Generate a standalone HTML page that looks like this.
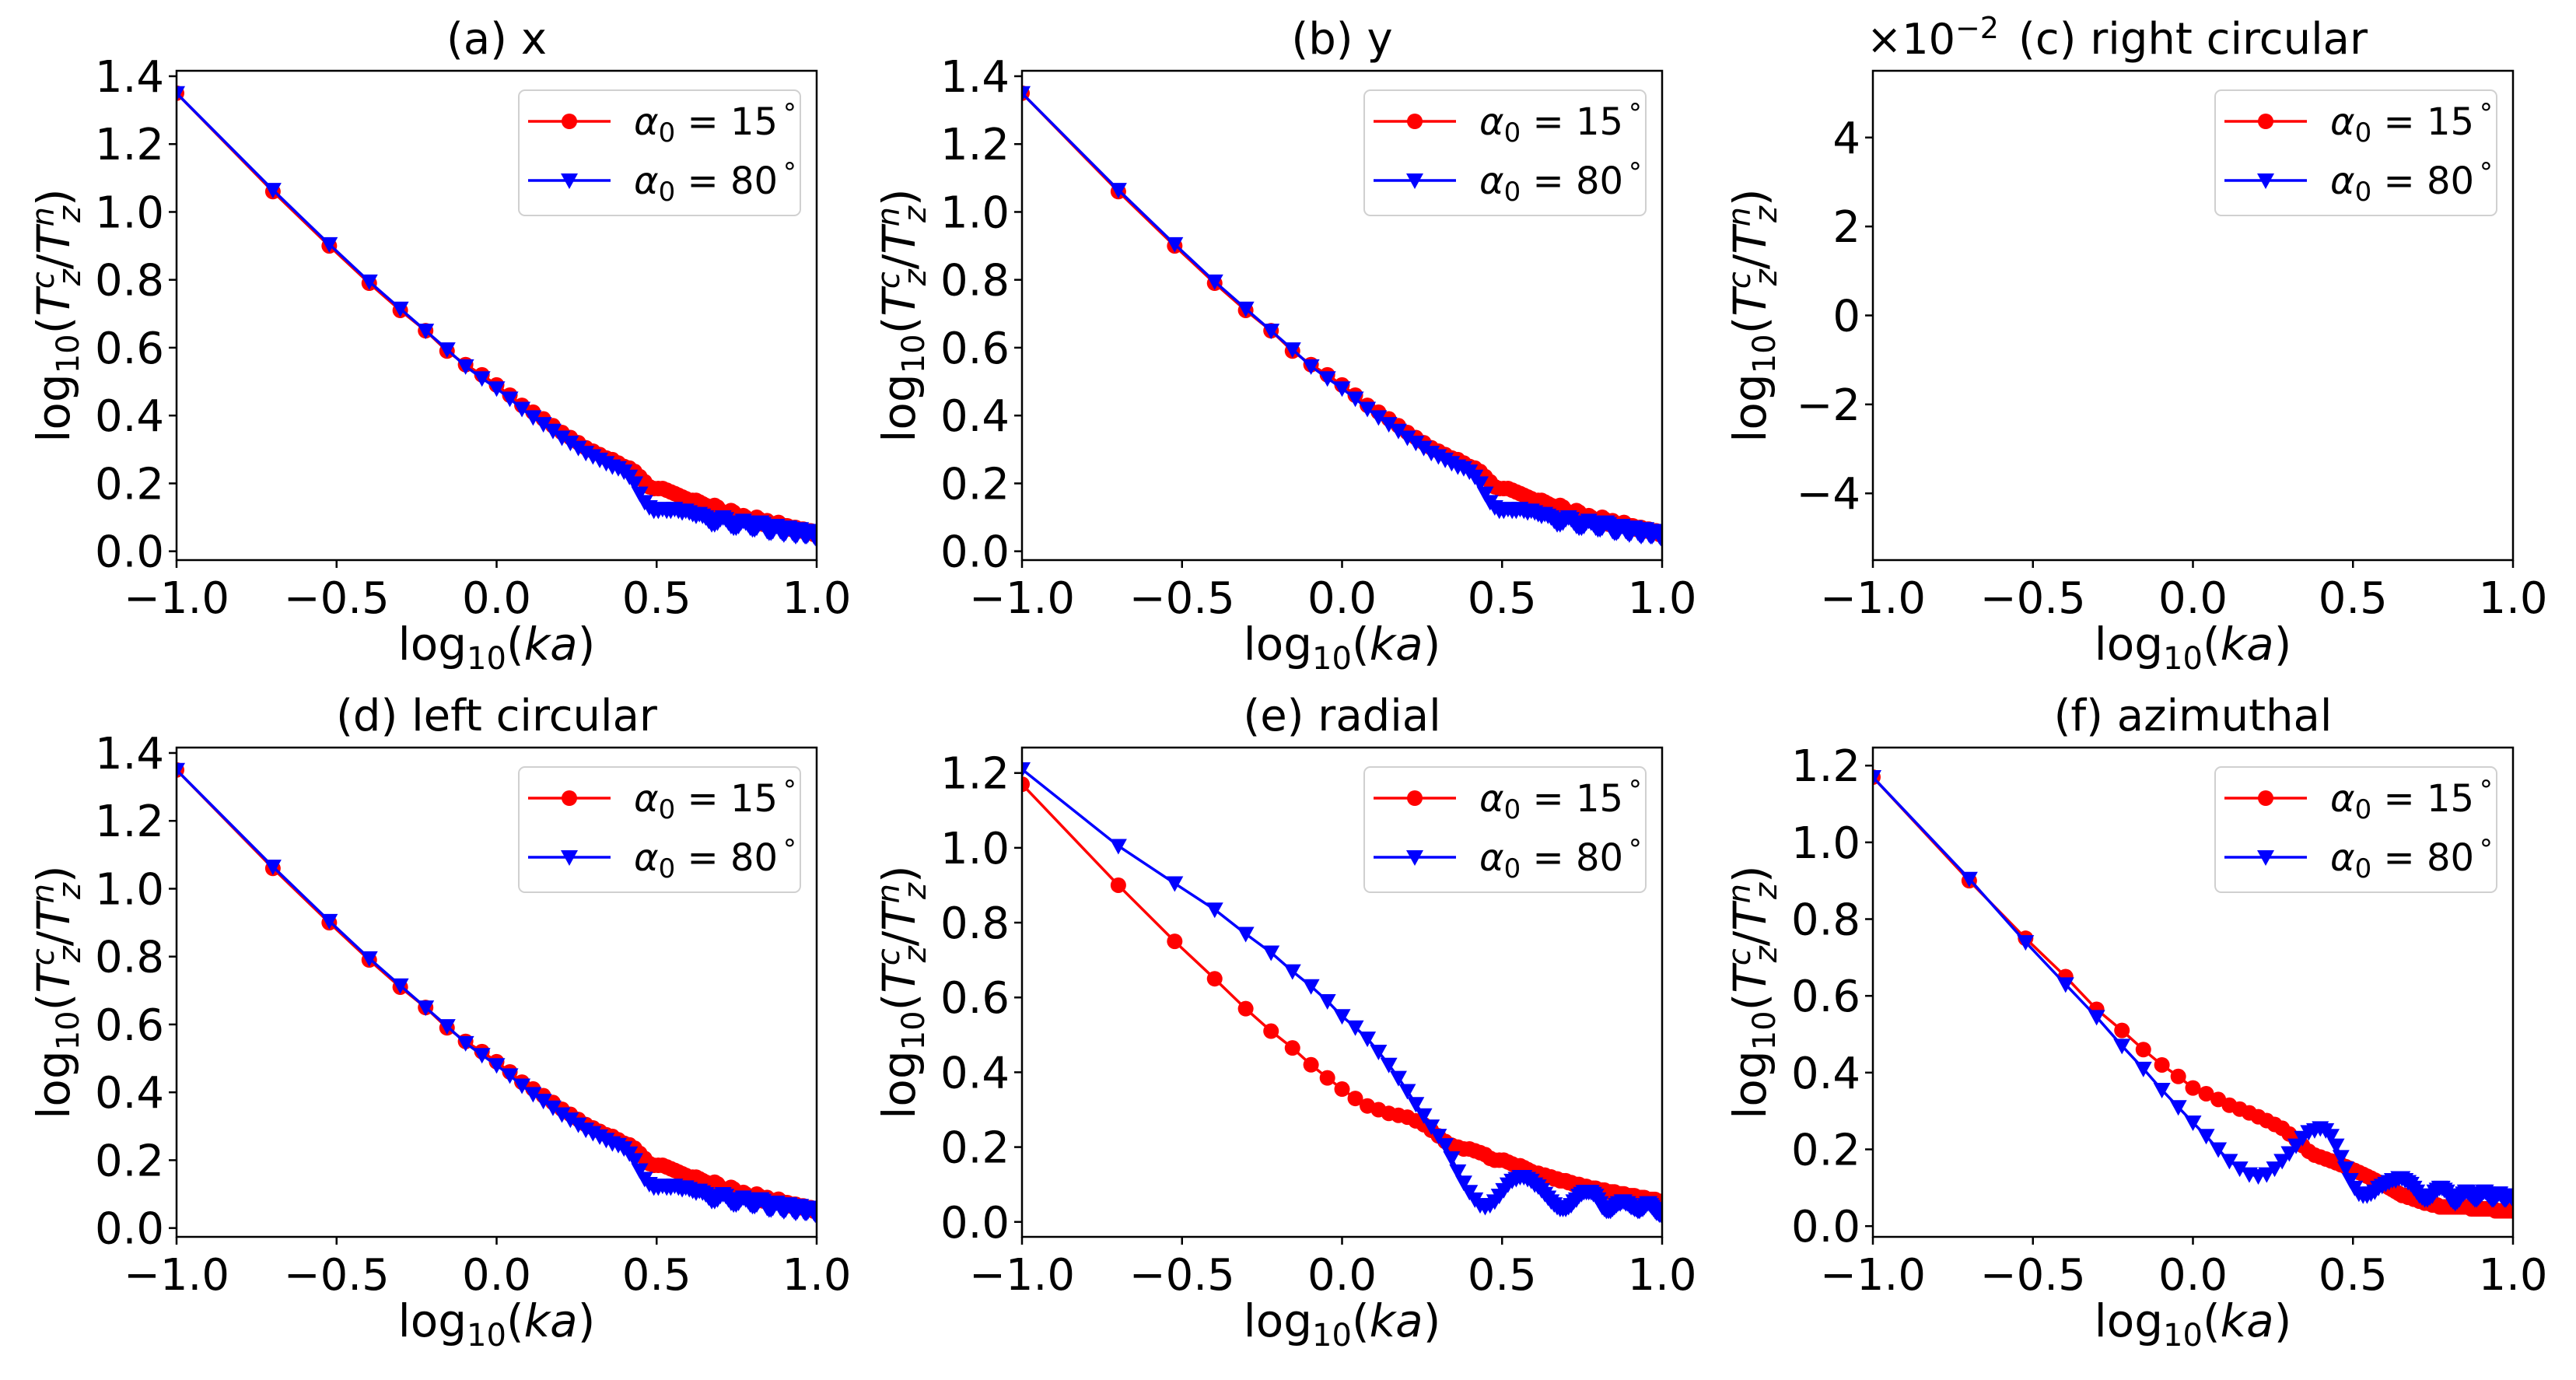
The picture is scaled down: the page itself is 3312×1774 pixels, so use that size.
<!DOCTYPE html>
<html><head><meta charset="utf-8"><style>
html,body{margin:0;padding:0;background:#fff}
svg{display:block;font-family:"DejaVu Sans","Liberation Sans",sans-serif}
</style></head><body>
<svg id="fig" width="3312" height="1774" viewBox="0 0 3312 1774" xmlns="http://www.w3.org/2000/svg"></svg>
<script>
const kaValues = [];
for (let n = 1; n <= 100; n++) kaValues.push(n / 10);
const xTicks = [-1.0, -0.5, 0.0, 0.5, 1.0];
const xTickLabels = ["\u22121.0", "\u22120.5", "0.0", "0.5", "1.0"];
const yTicksMain = [0, 0.2, 0.4, 0.6, 0.8, 1.0, 1.2, 1.4];
const yTicksE = [0, 0.2, 0.4, 0.6, 0.8, 1.0, 1.2];
const yTicksC = [-4, -2, 0, 2, 4];
const panelTitles = ["(a) x", "(b) y", "(c) right circular", "(d) left circular", "(e) radial", "(f) azimuthal"];
const legendLabels = ["15", "80"];

const aRed = [1.35,1.06,0.90,0.79,0.71,0.65,0.59,0.55,0.52,0.49,
0.46,0.43,0.41,0.39,0.37,0.35,0.335,0.32,0.305,0.295,
0.285,0.275,0.27,0.26,0.25,0.245,0.235,0.22,0.205,0.19,
0.185,0.185,0.185,0.18,0.175,0.17,0.165,0.16,0.155,0.15,
0.15,0.15,0.145,0.14,0.135,0.13,0.13,0.135,0.13,0.12,
0.115,0.11,0.115,0.12,0.115,0.105,0.1,0.1,0.105,0.1,
0.095,0.09,0.09,0.095,0.1,0.095,0.085,0.08,0.085,0.09,
0.085,0.08,0.075,0.075,0.08,0.085,0.08,0.07,0.07,0.075,
0.075,0.07,0.065,0.065,0.07,0.07,0.065,0.06,0.06,0.065,
0.065,0.06,0.055,0.055,0.06,0.06,0.055,0.05,0.05,0.055];
const aBlue = [1.35,1.065,0.905,0.795,0.715,0.65,0.595,0.545,0.51,0.48,
0.45,0.42,0.395,0.375,0.355,0.335,0.32,0.305,0.29,0.28,
0.27,0.26,0.25,0.245,0.235,0.22,0.2,0.17,0.145,0.13,
0.12,0.12,0.125,0.12,0.12,0.125,0.12,0.115,0.12,0.115,
0.11,0.105,0.11,0.105,0.1,0.09,0.08,0.08,0.085,0.095,
0.1,0.095,0.085,0.075,0.07,0.07,0.075,0.085,0.09,0.085,
0.08,0.07,0.065,0.065,0.07,0.08,0.085,0.08,0.07,0.06,
0.055,0.055,0.06,0.07,0.075,0.07,0.06,0.055,0.05,0.055,
0.065,0.07,0.065,0.055,0.05,0.045,0.05,0.06,0.065,0.06,
0.05,0.045,0.045,0.05,0.06,0.06,0.055,0.045,0.04,0.045];
const eRed = [1.17,0.90,0.75,0.65,0.57,0.51,0.465,0.42,0.385,0.355,
0.33,0.31,0.30,0.29,0.285,0.28,0.27,0.26,0.245,0.23,
0.215,0.205,0.2,0.195,0.195,0.19,0.185,0.18,0.17,0.165,
0.165,0.165,0.16,0.155,0.15,0.15,0.145,0.14,0.135,0.13,
0.13,0.125,0.125,0.12,0.12,0.115,0.115,0.11,0.11,0.11,
0.105,0.105,0.1,0.1,0.1,0.095,0.095,0.095,0.09,0.09,
0.09,0.09,0.085,0.085,0.085,0.085,0.08,0.08,0.08,0.08,
0.08,0.075,0.075,0.075,0.075,0.075,0.07,0.07,0.07,0.07,
0.07,0.07,0.065,0.065,0.065,0.065,0.065,0.065,0.06,0.06,
0.06,0.06,0.06,0.06,0.06,0.055,0.055,0.055,0.055,0.055];
const eBlue = [1.21,1.005,0.905,0.835,0.77,0.72,0.67,0.63,0.59,0.55,
0.52,0.49,0.455,0.42,0.385,0.35,0.315,0.285,0.255,0.23,
0.205,0.17,0.135,0.105,0.08,0.06,0.045,0.04,0.045,0.055,
0.07,0.085,0.1,0.11,0.115,0.12,0.12,0.115,0.11,0.1,
0.095,0.085,0.075,0.065,0.055,0.047,0.04,0.035,0.035,0.035,
0.04,0.045,0.055,0.06,0.07,0.075,0.08,0.08,0.08,0.08,
0.075,0.07,0.06,0.05,0.04,0.035,0.03,0.03,0.03,0.035,
0.04,0.045,0.05,0.05,0.055,0.055,0.05,0.05,0.045,0.04,
0.04,0.035,0.035,0.03,0.03,0.035,0.035,0.04,0.045,0.05,
0.05,0.045,0.04,0.035,0.03,0.025,0.025,0.02,0.02,0.02];
const fRed = [1.17,0.90,0.75,0.65,0.565,0.51,0.46,0.42,0.39,0.36,
0.345,0.33,0.315,0.305,0.295,0.285,0.275,0.265,0.255,0.24,
0.225,0.21,0.195,0.185,0.18,0.175,0.17,0.165,0.16,0.155,
0.15,0.145,0.14,0.135,0.13,0.125,0.12,0.115,0.11,0.105,
0.1,0.095,0.09,0.085,0.08,0.08,0.075,0.075,0.07,0.07,
0.065,0.065,0.06,0.06,0.06,0.055,0.055,0.055,0.05,0.05,
0.05,0.05,0.05,0.05,0.05,0.05,0.05,0.05,0.05,0.05,
0.05,0.05,0.05,0.045,0.045,0.045,0.045,0.045,0.045,0.045,
0.045,0.045,0.045,0.045,0.045,0.045,0.045,0.04,0.04,0.04,
0.04,0.04,0.04,0.04,0.04,0.04,0.04,0.04,0.04,0.04];
const fBlue = [1.17,0.905,0.74,0.63,0.545,0.47,0.41,0.355,0.31,0.27,
0.235,0.2,0.17,0.15,0.135,0.13,0.135,0.15,0.17,0.19,
0.21,0.23,0.245,0.25,0.255,0.25,0.235,0.21,0.18,0.15,
0.12,0.1,0.085,0.08,0.08,0.085,0.09,0.1,0.105,0.11,
0.115,0.12,0.12,0.125,0.125,0.12,0.115,0.11,0.1,0.09,
0.08,0.075,0.07,0.07,0.075,0.08,0.09,0.095,0.1,0.1,
0.095,0.09,0.08,0.07,0.065,0.06,0.065,0.07,0.08,0.085,
0.09,0.09,0.085,0.08,0.075,0.07,0.07,0.075,0.08,0.085,
0.09,0.09,0.085,0.08,0.075,0.07,0.07,0.075,0.08,0.085,
0.085,0.08,0.075,0.07,0.07,0.075,0.08,0.08,0.075,0.07];

const NS = "http://www.w3.org/2000/svg";
const svg = document.getElementById("fig");
function mk(tag, attrs, parent) {
  const e = document.createElementNS(NS, tag);
  for (const k in attrs) e.setAttribute(k, attrs[k]);
  (parent || svg).appendChild(e);
  return e;
}
const W = 823, H = 629;
const colL = [227, 1314, 2408];
const rowT = [91, 961];
const panels = [
  {col:0,row:0,ylim:[-0.026,1.416],ticks:yTicksMain,red:aRed,blue:aBlue,fmt:1,title:0},
  {col:1,row:0,ylim:[-0.026,1.416],ticks:yTicksMain,red:aRed,blue:aBlue,fmt:1,title:1},
  {col:2,row:0,ylim:[-5.5,5.5],ticks:yTicksC,red:null,blue:null,fmt:0,title:2},
  {col:0,row:1,ylim:[-0.026,1.416],ticks:yTicksMain,red:aRed,blue:aBlue,fmt:1,title:3},
  {col:1,row:1,ylim:[-0.04,1.268],ticks:yTicksE,red:eRed,blue:eBlue,fmt:1,title:4},
  {col:2,row:1,ylim:[-0.028,1.247],ticks:yTicksE,red:fRed,blue:fBlue,fmt:1,title:5}
];
panels.forEach((p, i) => {
  const L = colL[p.col], T = rowT[p.row];
  const g = mk("g", {});
  
  
  const xs = v => L + (v + 1) / 2 * W;
  const ys = v => T + H - (v - p.ylim[0]) / (p.ylim[1] - p.ylim[0]) * H;
  const t = mk("text", {x: L + W/2, y: T - 22, "font-size": 56, "text-anchor": "middle", fill: "#000"}, g);
  t.textContent = panelTitles[p.title];
  
  
  const cid = "clip" + i;
  const cp = mk("clipPath", {id: cid}, g);
  mk("rect", {x: L, y: T, width: W, height: H}, cp);
  const series = [[p.red, "#ff0000", "circle"], [p.blue, "#0000ff", "tri"]];
  series.forEach(([vals, col, shape], si) => {
    if (!vals) return;
    const sg = mk("g", {"clip-path": "url(#" + cid + ")"}, g);
    
    
    const pts = vals.map((v, k) => xs(Math.log10(kaValues[k])).toFixed(1) + "," + ys(v).toFixed(1)).join(" ");
    mk("polyline", {points: pts, fill: "none", stroke: col, "stroke-width": 3.5}, sg);
    vals.forEach((v, k) => {
      const cx = xs(Math.log10(kaValues[k])), cy = ys(v);
      let m;
      if (shape === "circle") m = mk("circle", {cx: cx, cy: cy, r: 10, fill: col}, sg);
      else m = mk("polygon", {points: `${cx-11},${cy-9} ${cx+11},${cy-9} ${cx},${cy+11}`, fill: col}, sg);
      
      
    });
  });
  const fr = mk("rect", {x: L, y: T, width: W, height: H, fill: "none", stroke: "#000", "stroke-width": 2.5}, g);
  
  
  xTicks.forEach((v, k) => {
    mk("line", {x1: xs(v), x2: xs(v), y1: T + H, y2: T + H + 10, stroke: "#000", "stroke-width": 2.5}, g);
    const tl = mk("text", {x: xs(v), y: T + H + 68, "font-size": 56, "text-anchor": "middle"}, g);
    tl.textContent = xTickLabels[k];
    
    
  });
  p.ticks.forEach(v => {
    mk("line", {x1: L - 10, x2: L, y1: ys(v), y2: ys(v), stroke: "#000", "stroke-width": 2.5}, g);
    const tl = mk("text", {x: L - 16, y: ys(v) + 20, "font-size": 56, "text-anchor": "end"}, g);
    tl.textContent = p.fmt ? v.toFixed(1) : (v < 0 ? "\u2212" + Math.abs(v) : String(v));
    
    
  });
  if (p.fmt === 0) {
    const off = mk("text", {x: L - 8, y: T - 22, "font-size": 54}, g);
    off.innerHTML = '\u00d710<tspan dy="-20" font-size="38">\u22122</tspan>';
    
    
  }
  const xl = mk("text", {x: L + W/2, y: T + H + 128, "font-size": 58, "text-anchor": "middle"}, g);
  xl.innerHTML = 'log<tspan dy="12" font-size="40">10</tspan><tspan dy="-12">(</tspan><tspan font-style="italic">ka</tspan>)';
  
  
  const yl = mk("text", {x: 0, y: 0, "font-size": 58, "text-anchor": "middle", transform: `translate(${L - 138},${T + H/2}) rotate(-90)`}, g);
  yl.innerHTML = 'log<tspan dy="12" font-size="40">10</tspan><tspan dy="-12">(</tspan><tspan font-style="italic">T</tspan><tspan font-style="italic" font-size="40" dy="-20">c</tspan><tspan font-style="italic" font-size="40" dx="-18" dy="34">z</tspan><tspan dy="-14">/</tspan><tspan font-style="italic">T</tspan><tspan font-style="italic" font-size="40" dy="-20">n</tspan><tspan font-style="italic" font-size="40" dx="-20" dy="34">z</tspan><tspan dy="-14">)</tspan>';
  
  
  const lx = L + W - 21 - 362, ly = T + 25;
  const lg = mk("g", {}, g);
  
  
  mk("rect", {x: lx, y: ly, width: 362, height: 161, rx: 8, fill: "#fff", "fill-opacity": 0.8, stroke: "#d0d0d0", "stroke-width": 2}, lg);
  [["#ff0000","circle"],["#0000ff","tri"]].forEach(([col, sh], k) => {
    const cy = ly + 40 + k * 76;
    const e = mk("g", {}, lg);
    
    
    mk("line", {x1: lx + 12, x2: lx + 118, y1: cy, y2: cy, stroke: col, "stroke-width": 3.5}, e);
    const mx = lx + 65;
    if (sh === "circle") mk("circle", {cx: mx, cy: cy, r: 10, fill: col}, e);
    else mk("polygon", {points: `${mx-11},${cy-9} ${mx+11},${cy-9} ${mx},${cy+11}`, fill: col}, e);
    const tx = mk("text", {x: lx + 148, y: cy + 17, "font-size": 48}, e);
    tx.innerHTML = '<tspan font-style="italic">\u03b1</tspan><tspan font-size="34" dy="9">0</tspan><tspan dy="-9"> = ' + legendLabels[k] + '</tspan><tspan font-size="34" dy="-16">\u2009\u00b0</tspan>';
  });
});
</script>
</body></html>
